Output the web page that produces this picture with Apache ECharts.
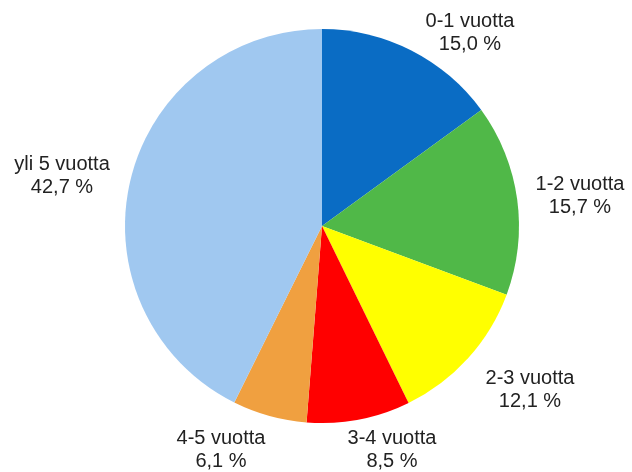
<!DOCTYPE html>
<html>
<head>
<meta charset="utf-8">
<script src="https://cdn.jsdelivr.net/npm/echarts@6/dist/echarts.min.js"></script>
<style>
  html, body { margin: 0; padding: 0; background: #fff; }
  #chart { width: 632px; height: 472px; }
</style>
</head>
<body>
<div id="chart"></div>
<script>
const categories = ["0-1 vuotta", "1-2 vuotta", "2-3 vuotta", "3-4 vuotta", "4-5 vuotta", "yli 5 vuotta"];
const values = [15.0, 15.7, 12.1, 8.5, 6.1, 42.7];
const colors = ["#0a6cc4", "#50b848", "#ffff00", "#ff0000", "#f0a040", "#a0c8f0"];

// label centres (Excel nudges them off the mid-angle, so placed by hand)
const labelPos = [[470, 33], [580, 196], [530, 390], [392, 450], [221, 450], [62, 176]];

const chart = echarts.init(document.getElementById("chart"));

chart.setOption({
  animation: false,
  series: [
    {
      type: "pie",
      center: [322, 226],
      radius: 197,
      startAngle: 90,
      clockwise: true,
      data: categories.map((name, i) => ({
        name,
        value: values[i],
        itemStyle: { color: colors[i] },
      })),
      label: {
        show: true,
        position: "outside",
        formatter: (p) => `${p.name}\n${p.value.toFixed(1).replace(".", ",")} %`,
        fontFamily: "Liberation Sans, Arial, sans-serif",
        fontSize: 20,
        lineHeight: 23,
        color: "#222",
        align: "center",
        overflow: "none",
      },
      labelLine: { show: false },
      labelLayout: (params) => {
        const [x, y] = labelPos[params.dataIndex];
        return { x, y, align: "center", verticalAlign: "middle" };
      },
      emphasis: { disabled: true },
    },
  ],
});
</script>
</body>
</html>
